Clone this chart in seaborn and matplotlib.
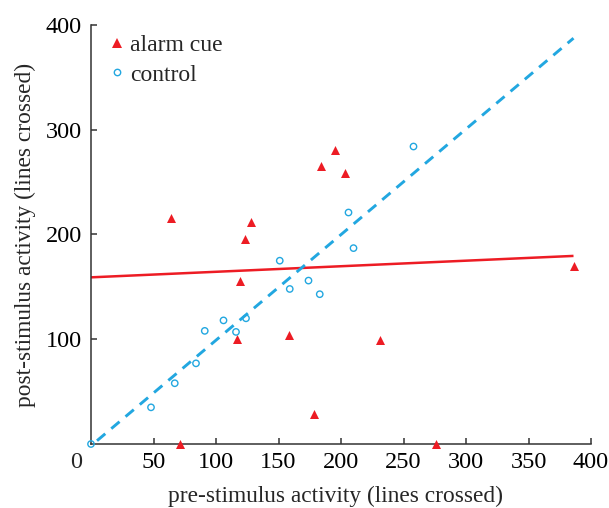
import numpy as np
import pandas as pd
import matplotlib
matplotlib.use("Agg")
import matplotlib.pyplot as plt
import seaborn as sns
from matplotlib.lines import Line2D

# ---- data ----
alarm_x = [64, 71, 117, 119, 123, 128, 158, 178, 184, 195, 203, 231, 276, 386]
alarm_y = [216, 0, 100, 156, 196, 212, 104, 29, 265, 281, 259, 99, 0, 170]
control_x = [0, 48, 67, 84, 91, 106, 116, 124, 151, 159, 174, 183, 206, 210, 258]
control_y = [0, 35, 58, 77, 108, 118, 107, 120, 175, 148, 156, 143, 221, 187, 284]
alarm_fit = [159.1, 0.053]     # intercept, slope
control_fit = [-1.7, 1.008]    # intercept, slope
x_ticks = [50, 100, 150, 200, 250, 300, 350, 400]
y_ticks = [100, 200, 300, 400]
series_names = ["alarm cue", "control"]
x_label = "pre-stimulus activity (lines crossed)"
y_label = "post-stimulus activity (lines crossed)"

RED = "#ED1C24"
BLUE = "#22A7E0"

sns.set_style("ticks")
plt.rcParams["font.family"] = ["Liberation Serif", "DejaVu Serif"]

fig = plt.figure(figsize=(6.09, 5.08), dpi=100)
ax = fig.add_axes([91 / 609, (508 - 444) / 508, 500 / 609, 419 / 508])

alarm_df = pd.DataFrame({"x": alarm_x, "y": alarm_y})
control_df = pd.DataFrame({"x": control_x, "y": control_y})

# fitted lines
fx = np.array([0, max(alarm_x)], dtype=float)
ax.plot(fx, alarm_fit[0] + alarm_fit[1] * fx, color=RED, lw=1.8, zorder=2,
        solid_capstyle="butt")
ax.plot(fx, control_fit[0] + control_fit[1] * fx, color=BLUE, lw=2.1,
        linestyle=(3.7, (3.7, 2.7)), zorder=2)

sns.scatterplot(data=alarm_df, x="x", y="y", ax=ax, marker="^", s=42,
                color=RED, linewidth=0, zorder=3, clip_on=False)
sns.scatterplot(data=control_df, x="x", y="y", ax=ax, marker="o", s=21,
                linewidth=1.0, zorder=3, clip_on=False)
ax.collections[-1].set_facecolor("none")
ax.collections[-1].set_edgecolor(BLUE)

ax.set_xlim(0, 400)
ax.set_ylim(0, 400)
ax.set_xticks(x_ticks)
ax.set_yticks(y_ticks)
ax.set_xticklabels([str(t) for t in x_ticks])
ax.set_yticklabels([str(t) for t in y_ticks])
ax.tick_params(direction="in", length=4, width=1.1, color="#333333",
               labelsize=17.5, labelcolor="black")
ax.tick_params(axis="x", pad=6)
ax.tick_params(axis="y", pad=6.5)
for s in ["top", "right"]:
    ax.spines[s].set_visible(False)
for s in ["left", "bottom"]:
    ax.spines[s].set_linewidth(1.1)
    ax.spines[s].set_color("#333333")

# shared origin label
ax.annotate("0", xy=(0, 0), xycoords="data", xytext=(-10.7, -6),
            textcoords="offset points", ha="center", va="top", fontsize=17.5)

ax.set_xlabel(x_label, fontsize=16.8)
ax.set_ylabel(y_label, fontsize=16.8)
ax.xaxis.set_label_coords(0.49, -0.1)
ax.yaxis.set_label_coords(-0.111, 0.5)

handles = [
    Line2D([], [], marker="^", linestyle="none", color=RED, markersize=6.5,
           markeredgewidth=0),
    Line2D([], [], marker="o", linestyle="none", markerfacecolor="none",
           markeredgecolor=BLUE, markersize=4.6, markeredgewidth=1.0),
]
ax.legend(handles, series_names, loc="upper left", frameon=False,
          fontsize=17, handlelength=0.5, handletextpad=0.3,
          labelspacing=0.33, borderaxespad=0, bbox_to_anchor=(0.022, 0.999))

fig.savefig("out.png", dpi=100)
